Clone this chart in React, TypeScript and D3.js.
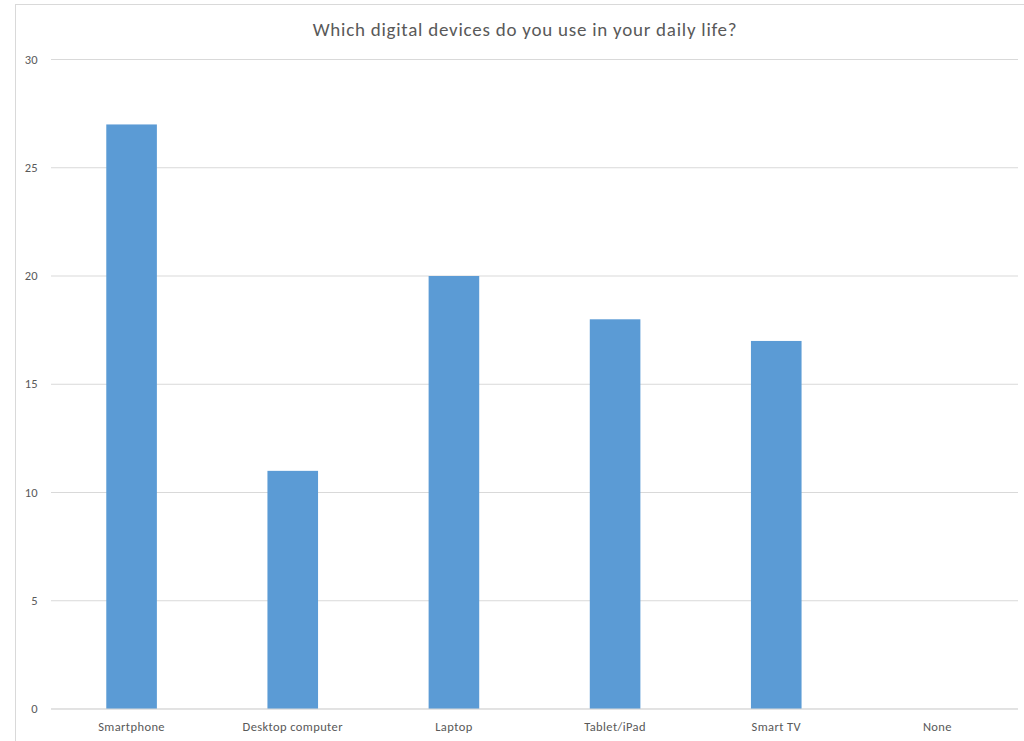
import React from "react";
import * as d3 from "d3";

const categories = ["Smartphone", "Desktop computer", "Laptop", "Tablet/iPad", "Smart TV", "None"];
const values = [27, 11, 20, 18, 17, 0];
const yTicks = [0, 5, 10, 15, 20, 25, 30];
const title = "Which digital devices do you use in your daily life?";

export default function App() {
  const W = 1024, H = 741;
  const left = 51, right = 1018, top = 59.5, bottom = 709;
  const x = d3.scaleBand<string>().domain(categories).range([left, right]).paddingInner(0.686).paddingOuter(0.343);
  const y = d3.scaleLinear().domain([0, 30]).range([bottom, top]);
  const font = "Carlito, Calibri, Lato, 'Open Sans', sans-serif";
  return (
    <svg width={W} height={H} style={{ position: "absolute", left: 0, top: 0, background: "#fff" }} fontFamily={font}>
      <rect x={15.5} y={4.5} width={1100} height={800} fill="#fff" stroke="#d9d9d9" />
      <text x={525} y={36} textAnchor="middle" fontSize={19} letterSpacing={0.75} fill="#595959">{title}</text>
      {yTicks.map(t => (
        <g key={t}>
          <line x1={left} x2={right} y1={y(t)} y2={y(t)} stroke="#d9d9d9" strokeWidth={1} />
          <text x={38} y={y(t) + 4} textAnchor="end" fontSize={12.5} letterSpacing={0.3} fill="#595959">{t}</text>
        </g>
      ))}
      {categories.map((c, i) => (
        <g key={c}>
          <rect x={x(c)!} width={x.bandwidth()} y={y(values[i])} height={y(0) - y(values[i])} fill="#5b9bd5" />
          <text x={x(c)! + x.bandwidth() / 2} y={731} textAnchor="middle" fontSize={12.5} letterSpacing={0.4} fill="#595959">{c}</text>
        </g>
      ))}
      <line x1={left} x2={right} y1={y(0)} y2={y(0)} stroke="#d9d9d9" strokeWidth={1} />
    </svg>
  );
}
